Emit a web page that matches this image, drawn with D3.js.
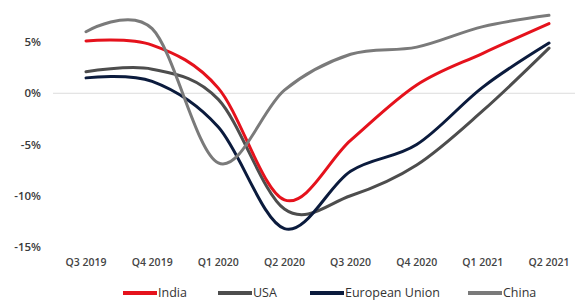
<!DOCTYPE html>
<html><head><meta charset="utf-8">
<script src="https://cdn.jsdelivr.net/npm/d3@7"></script>
<style>body{margin:0;background:#fff;}svg{display:block;}</style>
</head><body>
<svg id="c" width="575" height="300"></svg>
<script>
const quarters = ["Q3 2019","Q4 2019","Q1 2020","Q2 2020","Q3 2020","Q4 2020","Q1 2021","Q2 2021"];
const india = [5.1, 4.7, 0.5, -10.4, -4.6, 0.8, 3.9, 6.8];
const usa   = [2.1, 2.35, -0.6, -11.3, -10.0, -7.0, -1.7, 4.4];
const eu    = [1.5, 1.15, -3.3, -13.2, -7.6, -5.0, 0.6, 4.9];
const china = [6.0, 6.3, -6.8, 0.3, 3.8, 4.5, 6.5, 7.6];
const yTicks = [5, 0, -5, -10, -15];
const seriesNames = ["India","USA","European Union","China"];
const seriesColors = ["#e5121c","#4d4d4d","#0b1b3d","#7a7a7a"];

const svg = d3.select("#c");
const x = d3.scalePoint().domain(quarters).range([86, 549]);
const y = d3.scaleLinear().domain([-15, 5]).range([247, 42]);

svg.selectAll(".yt").data(yTicks).enter().append("text")
  .attr("x", 41).attr("y", d => y(d)).attr("dy", "0.35em")
  .attr("text-anchor", "end")
  .attr("font-family", "'Open Sans', sans-serif").attr("font-weight", 600)
  .attr("font-size", 11.5).attr("fill", "#3a3a3a")
  .text(d => d + "%");

svg.append("line").attr("x1", 53).attr("x2", 575)
  .attr("y1", y(0)).attr("y2", y(0))
  .attr("stroke", "#dcdcdc").attr("stroke-width", 1);

svg.selectAll(".xt").data(quarters).enter().append("text")
  .attr("x", d => x(d)).attr("y", 266)
  .attr("text-anchor", "middle")
  .attr("font-family", "'Open Sans', sans-serif").attr("font-weight", 600)
  .attr("font-size", 10.5).attr("fill", "#444")
  .text(d => d);

const line = d3.line().x((d, i) => x(quarters[i])).y(d => y(d)).curve(d3.curveCardinal.tension(0));
const data = [usa, eu, india, china];
const order = [1, 2, 0, 3];
data.forEach((s, k) => {
  svg.append("path").attr("d", line(s)).attr("fill", "none")
    .attr("stroke", seriesColors[order[k]]).attr("stroke-width", 3)
    .attr("stroke-linecap", "round");
});

const legX = [123, 218, 310, 468];
seriesNames.forEach((n, i) => {
  svg.append("line").attr("x1", legX[i]).attr("x2", legX[i] + 34)
    .attr("y1", 293).attr("y2", 293)
    .attr("stroke", seriesColors[i]).attr("stroke-width", 4);
  svg.append("text").attr("x", legX[i] + 35).attr("y", 297)
    .attr("font-family", "'Open Sans', sans-serif").attr("font-size", 12.5)
    .attr("fill", "#333").text(n);
});
</script>
</body></html>
